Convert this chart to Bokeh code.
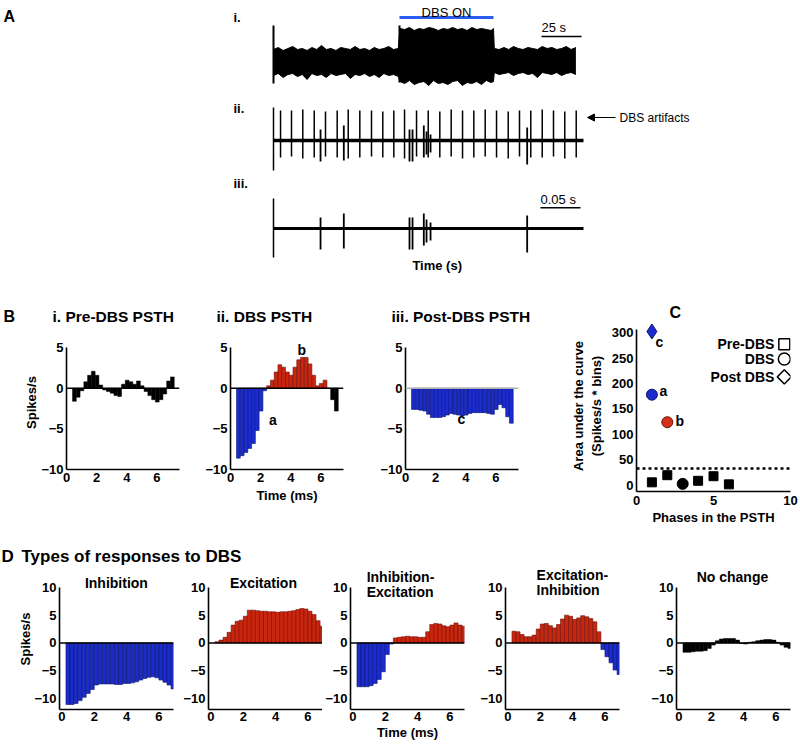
from bokeh.plotting import figure
from bokeh.layouts import column, row
from bokeh.models import Range1d, Label, Span, FixedTicker, Arrow, NormalHead
from bokeh.embed import file_html
from bokeh.resources import INLINE

FONT = "Liberation Sans"
BLUE, BLUE_E = "#1b2bcc", "#0c176e"
RED, RED_E = "#c9260f", "#6e1106"
LINE_BLUE = "#2b5cf0"

# ------------------------------------------------------------------ DATA
# A-i: envelope of the raw recording (time in s, amplitude in a.u.)
pre_t = [0, 3, 6, 9, 12, 15, 18, 21, 24, 27, 30, 33, 36, 39, 42, 45, 48, 51, 54, 57, 60, 63, 66, 69, 72, 75, 78]
pre_hi = [12, 14, 11, 13, 15, 12, 13, 11, 14, 12, 16, 12, 13, 11, 14, 13, 12, 15, 12, 13, 11, 14, 12, 13, 15, 12, 13]
pre_lo = [-14, -12, -16, -13, -12, -15, -13, -18, -12, -14, -13, -16, -12, -14, -13, -12, -17, -13, -14, -12, -15, -13, -16, -12, -14, -13, -15]
on_t = [79, 82, 85, 88, 91, 94, 97, 100, 103, 106, 109, 112, 115, 118, 121, 124, 127, 130, 133, 136, 137.5]
on_hi = [33, 32, 34, 31, 33, 32, 34, 33, 31, 33, 32, 34, 32, 33, 31, 34, 32, 33, 32, 31, 33]
on_lo = [-20, -22, -19, -23, -21, -20, -24, -19, -22, -21, -23, -20, -19, -24, -21, -22, -20, -23, -19, -21, -20]
post_t = [138, 141, 144, 147, 150, 153, 156, 159, 162, 165, 168, 171, 174, 177, 180, 183, 186, 189]
post_hi = [13, 12, 14, 12, 15, 13, 12, 14, 13, 12, 15, 13, 14, 12, 13, 15, 12, 14]
post_lo = [-11, -13, -12, -11, -14, -12, -11, -13, -12, -16, -11, -12, -13, -11, -14, -12, -11, -13]
trace1_art_t = [0.0, 78.75]
trace1_art_hi = [36, 36]
trace1_art_lo = [-22, -21]
dbs_on_window = [78.75, 137.5]
scale_i_s = 25

# A-ii / A-iii: time in ms
trace_len_ms = 387.5
art_t = [0.0, 8.8, 22.5, 36.6, 50.9, 65.0, 79.6, 93.4, 107.9, 122.5, 136.6, 150.4, 163.8, 178.8, 193.4,
         207.9, 222.1, 236.3, 250.4, 264.6, 278.8, 293.4, 307.5, 321.6, 335.9, 350.0, 364.1, 378.4]
art_hi = [33, 30, 30, 31, 30, 29, 30, 31, 30, 30, 29, 30, 31, 30, 30, 29, 31, 30, 30, 31, 30, 29, 30, 30, 31, 30, 29, 30]
art_lo = [-30, -17, -16, -18, -17, -16, -17, -18, -17, -16, -17, -17, -18, -16, -17, -17, -16, -18, -17, -16, -17, -18, -16, -17, -17, -16, -18, -17]
iii_start_hi, iii_start_lo = 30, -29
spike_t = [58.8, 87.9, 170.0, 173.8, 187.9, 191.3, 196.3, 317.1]
spike_hi = [11, 15, 11, 11, 15, 9, 6, 13]
spike_lo = [-21, -20, -21, -21, -17, -14, -12, -24]
scale_iii_ms = 50

# B: PSTHs (bin left edges in ms, spikes/s)
b_bins = [0.4, 0.65, 0.9, 1.15, 1.4, 1.65, 1.9, 2.15, 2.4, 2.65, 2.9, 3.15, 3.4, 3.65, 3.9, 4.15, 4.4, 4.65,
          4.9, 5.15, 5.4, 5.65, 5.9, 6.15, 6.4, 6.65, 6.9]
pre_psth = [-1.6, -1.1, -0.3, 0.8, 1.6, 2.1, 1.6, 0.4, -0.2, -0.4, -0.6, -0.9, -1.0, 0.5, 1.0, 0.8, 0.5, 0.9,
            0.3, -0.4, -0.9, -1.4, -1.7, -1.4, -0.7, 0.9, 1.4]
dbs_psth = [-8.6, -8.3, -7.9, -7.4, -6.8, -5.2, -2.8, -0.3, 0.3, 1.0, 2.0, 2.9, 2.6, 2.0, 1.6, 2.6, 3.5, 3.8,
            3.8, 3.0, 1.6, 0.3, 0.6, 1.0, 0.0, -1.4, -2.8]
dbs_nonsig_from = 6.4
post_psth = [-2.6, -2.6, -2.7, -2.8, -3.2, -3.6, -3.6, -3.6, -3.5, -3.3, -3.1, -3.2, -3.3, -3.4, -3.3, -3.1,
             -3.0, -3.0, -3.0, -3.0, -3.1, -3.2, -2.6, -2.0, -2.4, -3.5, -4.3]

# C: area under the curve per phase
pre_phase, pre_auc = [1, 2, 4, 5, 6], [6, 20, 9, 18, 2]
dbs_phase, dbs_auc = [1, 2, 3], [178, 124, 3]
dbs_kind = ["inh", "exc", "ns"]
post_phase, post_auc = [1], [302]
auc_threshold = 33

# D: response types
d_bins = [0.25, 0.5, 0.75, 1.0, 1.25, 1.5, 1.75, 2.0, 2.25, 2.5, 2.75, 3.0, 3.25, 3.5, 3.75, 4.0, 4.25, 4.5,
          4.75, 5.0, 5.25, 5.5, 5.75, 6.0, 6.25, 6.5, 6.75]
d_inhib = [-11.1, -11.1, -10.9, -10.4, -9.8, -9.1, -8.4, -7.6, -7.4, -7.4, -7.4, -7.4, -7.5, -7.5, -7.3, -7.3,
           -7.2, -7.0, -6.7, -6.4, -6.2, -6.1, -6.3, -6.7, -7.1, -7.6, -8.3]
d_excit = [0.2, 0.5, 1.0, 1.9, 3.2, 3.9, 4.1, 4.8, 5.9, 5.9, 5.8, 5.7, 5.7, 5.6, 5.6, 5.5, 5.6, 5.6, 5.7, 5.8,
           6.0, 6.2, 6.1, 5.7, 5.1, 4.0, 3.0]
d_inh_exc = [-7.9, -7.9, -7.9, -7.7, -7.3, -6.6, -5.2, -2.1, -0.2, 0.9, 1.0, 1.1, 1.2, 1.1, 1.1, 1.0, 1.0, 2.0,
             3.3, 3.5, 3.4, 3.1, 2.9, 3.2, 3.6, 3.2, 3.0]
d_exc_inh = [2.1, 2.0, 1.5, 1.1, 1.1, 1.4, 2.5, 3.4, 3.5, 3.1, 2.7, 3.3, 4.3, 5.0, 4.8, 4.2, 4.5, 4.9, 4.7, 4.4,
             3.8, 2.0, -1.2, -2.5, -3.6, -4.9, -5.7]
d_nochange = [-1.7, -1.7, -1.6, -1.5, -1.5, -1.4, -1.0, -0.4, 0.4, 0.7, 0.8, 0.8, 0.8, 0.5, -0.1, -0.2, 0.1, 0.2,
              0.4, 0.5, 0.6, 0.6, 0.5, 0.1, -0.4, -0.8, -1.0]


# ------------------------------------------------------------------ HELPERS
def blank(w, h, xr, yr):
    p = figure(frame_width=w, frame_height=h, x_range=Range1d(*xr), y_range=Range1d(*yr),
               x_axis_type=None, y_axis_type=None, output_backend="svg", toolbar_location=None,
               min_border_left=0, min_border_right=0, min_border_top=0, min_border_bottom=0)
    p.outline_line_color = None
    return p


def lab(p, x, y, text, size=13, bold=True, align="left", baseline="middle", color="black", angle=0.0):
    p.add_layout(Label(x=x, y=y, text=text, text_font=FONT, text_font_size=f"{size}px",
                       text_font_style="bold" if bold else "normal", text_align=align,
                       text_baseline=baseline, text_color=color, angle=angle))


def axfig(fw, fh, xr, yr, left, right, top, bottom, xticks, yticks, ybounds=None,
          xlabel=None, ylabel=None):
    p = figure(frame_width=fw, frame_height=fh, x_range=Range1d(*xr), y_range=Range1d(*yr),
               output_backend="svg", toolbar_location=None,
               min_border_left=left, min_border_right=right, min_border_top=top, min_border_bottom=bottom)
    p.outline_line_color = None
    p.grid.visible = False
    p.xaxis.ticker = FixedTicker(ticks=xticks)
    p.yaxis.ticker = FixedTicker(ticks=yticks)
    if ybounds is not None:
        p.yaxis.bounds = ybounds
    for ax in p.axis:
        ax.axis_line_width = 1.6
        ax.axis_line_color = "black"
        ax.major_tick_in = 0
        ax.major_tick_out = 0
        ax.minor_tick_in = 0
        ax.minor_tick_out = 0
        ax.major_label_text_font = FONT
        ax.major_label_text_font_size = "13px"
        ax.major_label_text_font_style = "bold"
        ax.major_label_text_color = "black"
        ax.major_label_standoff = 3
        ax.axis_label_text_font = FONT
        ax.axis_label_text_font_size = "13px"
        ax.axis_label_text_font_style = "bold"
        ax.axis_label_text_color = "black"
        ax.axis_label_standoff = 3
    p.yaxis.major_label_overrides = {-10: "\u221210", -5: "\u22125"}
    if xlabel:
        p.xaxis.axis_label = xlabel
    if ylabel:
        p.yaxis.axis_label = ylabel
    return p


def bars(p, bins, vals, width, fills, lines, lw=0.6):
    centers = [b + width / 2 for b in bins]
    p.vbar(x=centers, width=width, bottom=0, top=vals, fill_color=fills, line_color=lines, line_width=lw)


def sign_colors(vals):
    f = [BLUE if v < 0 else RED for v in vals]
    l = [BLUE_E if v < 0 else RED_E for v in vals]
    return f, l


# ------------------------------------------------------------------ PANEL A
pA1 = blank(800, 95, (-170.625, 329.375), (-34, 61))
t1 = pre_t + on_t + post_t
hi1 = pre_hi + on_hi + post_hi
lo1 = pre_lo + on_lo + post_lo
pA1.varea(x=t1, y1=lo1, y2=hi1, fill_color="black")
pA1.line(x=t1, y=hi1, line_color="black", line_width=1)
pA1.line(x=t1, y=lo1, line_color="black", line_width=1)
pA1.segment(x0=trace1_art_t, y0=trace1_art_lo, x1=trace1_art_t, y1=trace1_art_hi, line_color="black", line_width=2)
pA1.segment(x0=[dbs_on_window[0]], y0=[44], x1=[dbs_on_window[1]], y1=[44], line_color=LINE_BLUE, line_width=3)
lab(pA1, sum(dbs_on_window) / 2, 49, "DBS ON", size=13, bold=False, align="center", baseline="alphabetic")
sb0 = post_t[-1] - scale_i_s + 3.5
pA1.segment(x0=[sb0], y0=[25], x1=[sb0 + scale_i_s], y1=[25], line_color="black", line_width=1.5)
lab(pA1, sb0, 34, "25 s", size=13, bold=False)
lab(pA1, -168.75, 45, "A", size=16)
lab(pA1, -25, 44, "i.", size=13)

pA2 = blank(800, 80, (-341.25, 658.75), (-35, 45))
pA2.line(x=[0, trace_len_ms], y=[0, 0], line_color="black", line_width=3.5)
pA2.segment(x0=art_t, y0=art_lo, x1=art_t, y1=art_hi, line_color="black", line_width=1.5)
pA2.segment(x0=spike_t, y0=spike_lo, x1=spike_t, y1=spike_hi, line_color="black", line_width=1.8)
pA2.add_layout(Arrow(end=NormalHead(size=7, fill_color="black", line_color="black"),
                     x_start=427.5, y_start=23, x_end=392.5, y_end=23, line_width=1.2, line_color="black"))
lab(pA2, 432.5, 23, "DBS artifacts", size=12, bold=False)
lab(pA2, -50, 32, "ii.", size=13)

pA3 = blank(800, 115, (-341.25, 658.75), (-62, 53))
pA3.line(x=[0, trace_len_ms], y=[0, 0], line_color="black", line_width=3)
pA3.segment(x0=[0], y0=[iii_start_lo], x1=[0], y1=[iii_start_hi], line_color="black", line_width=1.5)
pA3.segment(x0=spike_t, y0=spike_lo, x1=spike_t, y1=spike_hi, line_color="black", line_width=1.8)
sb1 = trace_len_ms - scale_iii_ms - 3.75
pA3.segment(x0=[sb1], y0=[20.7], x1=[sb1 + scale_iii_ms], y1=[20.7], line_color="black", line_width=1.5)
lab(pA3, sb1, 29, "0.05 s", size=13, bold=False)
lab(pA3, 204.6, -37, "Time (s)", size=13, align="center")
lab(pA3, -50, 45, "iii.", size=13)

# ------------------------------------------------------------------ PANEL B / C
hB = blank(540, 36, (0, 540), (0, 36))
lab(hB, 3, 10, "B", size=16)
lab(hB, 52, 10, "i. Pre-DBS PSTH", size=15.5)
lab(hB, 216, 10, "ii. DBS PSTH", size=15.5)
lab(hB, 391, 10, "iii. Post-DBS PSTH", size=15.5)

BX = (0, 7.5)
BY = (-10, 6.5)
pBi = axfig(113, 134, BX, BY, 66, 11, 9, 59, [0, 2, 4, 6], [-10, -5, 0, 5], ybounds=(-10, 5), ylabel="Spikes/s")
pBi.yaxis.axis_label_standoff = -1
bars(pBi, b_bins, pre_psth, 0.25, "black", "black", 0.5)
pBi.add_layout(Span(location=0, dimension="width", line_color="black", line_width=1.5))

pBii = axfig(113, 134, BX, BY, 40, 17, 9, 59, [0, 2, 4, 6], [-10, -5, 0, 5], ybounds=(-10, 5), xlabel="Time (ms)")
f, l = sign_colors(dbs_psth)
for i, b in enumerate(b_bins):
    if b >= dbs_nonsig_from:
        f[i], l[i] = "black", "black"
pBii.add_layout(Span(location=0, dimension="width", line_color="black", line_width=1.5))
bars(pBii, b_bins, dbs_psth, 0.25, f, l)
lab(pBii, 2.55, -3.9, "a", size=14)
lab(pBii, 4.45, 4.75, "b", size=14)

pBiii = axfig(113, 134, BX, BY, 45, 22, 9, 59, [0, 2, 4, 6], [-10, -5, 0, 5], ybounds=(-10, 5))
pBiii.add_layout(Span(location=0, dimension="width", line_color="#b0b0b0", line_width=1.5))
f, l = sign_colors(post_psth)
bars(pBiii, b_bins, post_psth, 0.25, f, l)
lab(pBiii, 3.45, -3.75, "c", size=14)

hC = blank(260, 30, (0, 260), (0, 30))
lab(hC, 33, 8, "C", size=16)

pC = axfig(154, 171, (0, 10), (-12, 323.6), 96, 10, 0, 37, [0, 5, 10], [0, 50, 100, 150, 200, 250, 300],
           ybounds=(-12, 306), xlabel="Phases in the PSTH", ylabel="Area under the curve\n(Spikes/s * bins)")
pC.xaxis.major_label_standoff = 4
pC.xaxis.axis_label_standoff = 2
pC.yaxis.axis_label_standoff = 5
pC.add_layout(Span(location=auc_threshold, dimension="width", line_color="black", line_width=2.5, line_dash="3 3"))
pC.scatter(pre_phase, pre_auc, marker="square", size=9, fill_color="black", line_color="black")
kcol = {"inh": (BLUE, BLUE_E), "exc": ("#d3301a", RED_E), "ns": ("black", "black")}
pC.scatter(dbs_phase, dbs_auc, marker="circle", size=11,
           fill_color=[kcol[k][0] for k in dbs_kind], line_color=[kcol[k][1] for k in dbs_kind])
pC.scatter(post_phase, post_auc, marker="diamond", size=15, fill_color=BLUE, line_color=BLUE_E)
lab(pC, post_phase[0] + 0.23, post_auc[0] - 20, "c", size=14)
lab(pC, dbs_phase[0] + 0.5, dbs_auc[0] + 8, "a", size=14)
lab(pC, dbs_phase[1] + 0.53, dbs_auc[1] + 3, "b", size=14)
leg_y = [277, 248, 213]
lab(pC, 8.95, leg_y[0], "Pre-DBS", size=14, align="right")
lab(pC, 8.95, leg_y[1], "DBS", size=14, align="right")
lab(pC, 8.95, leg_y[2], "Post DBS", size=14, align="right")
pC.scatter([9.6], [leg_y[0]], marker="square", size=11, fill_color="white", line_color="black", line_width=1.5)
pC.scatter([9.6], [leg_y[1]], marker="circle", size=12, fill_color="white", line_color="black", line_width=1.5)
pC.scatter([9.6], [leg_y[2]], marker="square", size=10, angle=0.785398, fill_color="white",
           line_color="black", line_width=1.5)

# ------------------------------------------------------------------ PANEL D
hD = blank(800, 40, (0, 800), (0, 40))
lab(hD, 1, 12, "D", size=17)
lab(hD, 21, 12, "Types of responses to DBS", size=17)

DX = (-0.15, 6.9)
DY = (-12, 13.4)
DYT = [-10, -5, 0, 5, 10]
DXT = [0, 2, 4, 6]


def dfig(left, right, xlabel=None, ylabel=None):
    p = axfig(114, 141, DX, DY, left, right, 0, 35, DXT, DYT, ybounds=(-12, 10), xlabel=xlabel, ylabel=ylabel)
    p.xaxis.major_label_standoff = 2
    p.xaxis.axis_label_standoff = 1
    p.add_layout(Span(location=0, dimension="width", line_color="black", line_width=1.5))
    return p


pD1 = dfig(59, 7, ylabel="Spikes/s")
pD1.yaxis.axis_label_standoff = -2
f, l = sign_colors(d_inhib)
bars(pD1, d_bins, d_inhib, 0.25, f, l)
lab(pD1, 3.37, 10.7, "Inhibition", size=14, align="center")

pD2 = dfig(27, 0)
f, l = sign_colors(d_excit)
bars(pD2, d_bins, d_excit, 0.25, f, l)
lab(pD2, 3.25, 10.7, "Excitation", size=14, align="center")

pD3 = dfig(27, 13, xlabel="Time (ms)")
f, l = sign_colors(d_inh_exc)
bars(pD3, d_bins, d_inh_exc, 0.25, f, l)
lab(pD3, 0.85, 11.8, "Inhibition-", size=14)
lab(pD3, 0.85, 9.1, "Excitation", size=14)

pD4 = dfig(27, 29)
f, l = sign_colors(d_exc_inh)
bars(pD4, d_bins, d_exc_inh, 0.25, f, l)
lab(pD4, 1.77, 12.2, "Excitation-", size=14)
lab(pD4, 1.77, 9.6, "Inhibition", size=14)

pD5 = dfig(27, 14)
bars(pD5, d_bins, d_nochange, 0.25, "black", "black", 0.5)
lab(pD5, 3.31, 11.8, "No change", size=14, align="center")

layout = column(
    pA1, pA2, pA3,
    row(column(hB, row(pBi, pBii, pBiii)), column(hC, pC)),
    hD,
    row(pD1, pD2, pD3, pD4, pD5),
)

open("out.html", "w").write(file_html(layout, INLINE))
